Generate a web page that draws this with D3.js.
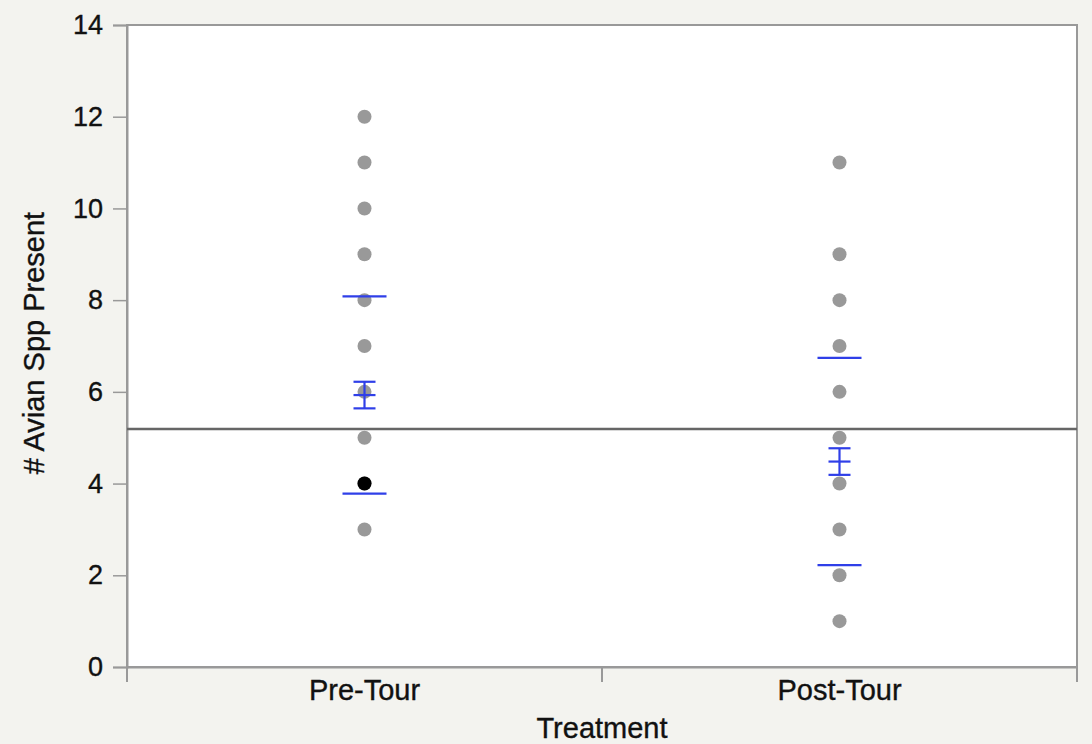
<!DOCTYPE html>
<html>
<head>
<meta charset="utf-8">
<script src="https://cdn.jsdelivr.net/npm/d3@7"></script>
<style>
  body { margin: 0; background: #f3f3ef; }
  text { font-family: "Liberation Sans", Arial, sans-serif; fill: #111; stroke: #111; stroke-width: 0.35px; }
</style>
</head>
<body>
<script>
(function(){

	var categories = ["Pre-Tour", "Post-Tour"];
	var preTour = [12, 11, 10, 9, 8, 7, 6, 5, 4, 3];
	var postTour = [11, 9, 8, 7, 6, 5, 4, 3, 2, 1];
	var selected = [{ cat: "Pre-Tour", value: 4 }];
	// mean, standard error, standard deviation per group
	var groupMeans = [5.93, 4.48];
	var groupSE = [0.29, 0.29];
	var groupSD = [2.15, 2.26];
	var grandMean = 5.19;
	var yTicks = [0, 2, 4, 6, 8, 10, 12, 14];

	const SVG_WIDTH = 1092;
	const SVG_HEIGHT = 744;
	const LEFT = 127, RIGHT = 1077, TOP = 25, BOTTOM = 667;
	const FONT = 27;
	const TITLE_FONT = 29;

	var x = d3.scaleBand().domain(categories).range([LEFT, RIGHT]);
	var y = d3.scaleLinear().domain([0, 14]).range([BOTTOM, TOP]);

	var svg = d3.select("body").append("svg")
		.attr("width", SVG_WIDTH).attr("height", SVG_HEIGHT);

	svg.append("rect").attr("x", LEFT).attr("y", TOP)
		.attr("width", RIGHT - LEFT).attr("height", BOTTOM - TOP)
		.attr("fill", "#fff").attr("stroke", "#999").attr("stroke-width", 2);

	// y axis
	var yAxis = svg.append("g").attr("transform", "translate(" + LEFT + ",0)")
		.call(d3.axisLeft(y).tickValues(yTicks).tickSize(14).tickPadding(10));
	yAxis.select(".domain").attr("stroke", "#999").attr("stroke-width", 2);
	yAxis.selectAll(".tick line").attr("stroke", "#999").attr("stroke-width", 1.5);
	yAxis.selectAll("text").attr("font-size", FONT).attr("fill", "#111")
		.style("font-family", "'Liberation Sans', Arial, sans-serif");

	// x axis: ticks at band edges
	var xAxis = svg.append("g").attr("transform", "translate(0," + BOTTOM + ")")
		.call(d3.axisBottom(x).tickSize(0).tickPadding(12));
	xAxis.select(".domain").attr("stroke", "#999").attr("stroke-width", 2);
	xAxis.selectAll("text").attr("font-size", TITLE_FONT).attr("fill", "#111")
		.style("font-family", "'Liberation Sans', Arial, sans-serif");
	var edges = [LEFT].concat(categories.map(function(c){ return x(c) + x.bandwidth(); }));
	svg.selectAll("line.edge").data(edges).enter().append("line")
		.attr("class", "edge")
		.attr("x1", function(d){ return d; }).attr("x2", function(d){ return d; })
		.attr("y1", BOTTOM).attr("y2", BOTTOM + 15)
		.attr("stroke", "#999").attr("stroke-width", 2);

	// grand mean line
	svg.append("line").attr("x1", LEFT).attr("x2", RIGHT)
		.attr("y1", y(grandMean)).attr("y2", y(grandMean))
		.attr("stroke", "#666").attr("stroke-width", 2.5);

	// points
	var pts = [];
	preTour.forEach(function(v){ pts.push({ cat: "Pre-Tour", value: v }); });
	postTour.forEach(function(v){ pts.push({ cat: "Post-Tour", value: v }); });
	var cx = function(c){ return x(c) + x.bandwidth() / 2; };

	svg.selectAll("circle.pt").data(pts).enter().append("circle")
		.attr("class", "pt")
		.attr("cx", function(d){ return cx(d.cat); })
		.attr("cy", function(d){ return y(d.value); })
		.attr("r", 7).attr("fill", "#999");

	svg.selectAll("circle.sel").data(selected).enter().append("circle")
		.attr("class", "sel")
		.attr("cx", function(d){ return cx(d.cat); })
		.attr("cy", function(d){ return y(d.value); })
		.attr("r", 7).attr("fill", "#000");

	// SD lines and mean error bars
	var blue = "#2f3fe8";
	categories.forEach(function(c, i){
		var m = groupMeans[i], se = groupSE[i], sd = groupSD[i], px = cx(c);
		var g = svg.append("g").attr("stroke", blue).attr("stroke-width", 2.2);
		[m + sd, m - sd].forEach(function(v){
			g.append("line").attr("x1", px - 22).attr("x2", px + 22)
				.attr("y1", y(v)).attr("y2", y(v));
		});
		[m + se, m, m - se].forEach(function(v){
			g.append("line").attr("x1", px - 11).attr("x2", px + 11)
				.attr("y1", y(v)).attr("y2", y(v));
		});
		g.append("line").attr("x1", px).attr("x2", px)
			.attr("y1", y(m + se)).attr("y2", y(m - se));
	});

	// axis titles
	svg.append("text").attr("x", (LEFT + RIGHT) / 2).attr("y", 738)
		.attr("text-anchor", "middle").attr("font-size", TITLE_FONT).text("Treatment");
	svg.append("text").attr("transform", "translate(44,343) rotate(-90)")
		.attr("text-anchor", "middle").attr("font-size", TITLE_FONT).text("# Avian Spp Present");

})();
</script>
</body>
</html>
